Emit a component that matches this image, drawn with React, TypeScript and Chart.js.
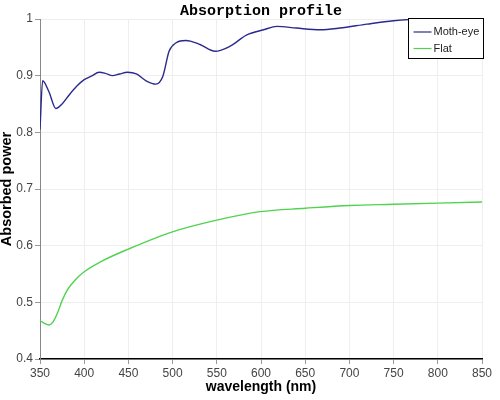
import React, { useEffect, useRef } from "react";
import { Chart, registerables } from "chart.js";

Chart.register(...registerables);

const mothEyeWavelengths = [350, 353, 360, 368, 375, 383, 392, 400, 408, 417, 424, 432, 440, 449, 459, 470, 481, 489, 496, 504, 515, 520, 531, 548, 565, 584, 603, 618, 640, 667, 689, 720, 750, 767, 800, 850];
const mothEyeValues = [0.805, 0.891, 0.872, 0.842, 0.850, 0.866, 0.882, 0.893, 0.899, 0.906, 0.904, 0.900, 0.903, 0.906, 0.903, 0.891, 0.885, 0.899, 0.943, 0.958, 0.962, 0.961, 0.955, 0.943, 0.952, 0.972, 0.981, 0.987, 0.984, 0.981, 0.984, 0.991, 0.997, 0.999, 1.0, 0.999];

const flatWavelengths = [350, 355, 360, 365, 370, 375, 381, 390, 400, 419, 450, 499, 550, 599, 650, 700, 750, 800, 850];
const flatValues = [0.468, 0.463, 0.460, 0.466, 0.482, 0.503, 0.522, 0.540, 0.554, 0.572, 0.594, 0.624, 0.645, 0.660, 0.666, 0.671, 0.673, 0.675, 0.677];

const seriesNames = ["Moth-eye", "Flat"];
const seriesColors = ["#2a2a8e", "#4fd34f"];

const chartTitle = "Absorption profile";
const xAxisTitle = "wavelength (nm)";
const yAxisTitle = "Absorbed power";

const toPoints = (xs: number[], ys: number[]) => xs.map((x, i) => ({ x, y: ys[i] }));

const boxLegend = {
  id: "boxLegend",
  afterDraw(chart: any) {
    const { ctx, chartArea } = chart;
    const w = 75;
    const h = 40;
    const left = chartArea.right + 1.5 - w;
    const top = chartArea.top - 0.5;
    ctx.save();
    ctx.fillStyle = "#ffffff";
    ctx.fillRect(left, top, w, h);
    ctx.strokeStyle = "#000000";
    ctx.lineWidth = 1;
    ctx.strokeRect(left, top, w, h);
    ctx.font = '11px "Liberation Sans", sans-serif';
    ctx.textBaseline = "middle";
    chart.data.datasets.forEach((ds: any, i: number) => {
      const y = top + 13.5 + i * 16.5;
      ctx.strokeStyle = ds.borderColor;
      ctx.lineWidth = 1.2;
      ctx.beginPath();
      ctx.moveTo(left + 5, y);
      ctx.lineTo(left + 23, y);
      ctx.stroke();
      ctx.fillStyle = "#222222";
      ctx.fillText(ds.label, left + 25, y);
    });
    ctx.restore();
  },
};

export default function App() {
  const canvasRef = useRef<HTMLCanvasElement | null>(null);

  useEffect(() => {
    if (!canvasRef.current) return;
    const chart = new Chart(canvasRef.current, {
      type: "line",
      data: {
        datasets: [
          {
            label: seriesNames[0],
            data: toPoints(mothEyeWavelengths, mothEyeValues),
            borderColor: seriesColors[0],
            borderWidth: 1.4,
            pointRadius: 0,
            cubicInterpolationMode: "monotone",
            fill: false,
          },
          {
            label: seriesNames[1],
            data: toPoints(flatWavelengths, flatValues),
            borderColor: seriesColors[1],
            borderWidth: 1.4,
            pointRadius: 0,
            cubicInterpolationMode: "monotone",
            fill: false,
          },
        ],
      },
      options: {
        animation: false,
        responsive: false,
        maintainAspectRatio: false,
        layout: { padding: { left: 0, right: 18, top: 0, bottom: 0 } },
        plugins: {
          legend: { display: false },
          tooltip: { enabled: false },
          title: {
            display: true,
            fullSize: false,
            text: chartTitle,
            color: "#000000",
            font: { family: '"Liberation Mono", monospace', size: 15, weight: "bold", lineHeight: 1 },
            padding: { top: 4, bottom: 0 },
          },
        },
        scales: {
          x: {
            type: "linear",
            min: 350,
            max: 850,
            afterFit: (scale: any) => {
              scale.height = 41;
            },
            ticks: {
              stepSize: 50,
              color: "#444444",
              padding: 2,
              maxRotation: 0,
              font: { family: '"Liberation Sans", sans-serif', size: 12 },
            },
            grid: {
              color: "#eeeeee",
              tickColor: "#999999",
              tickLength: 5,
            },
            border: { color: "#000000", width: 1.5 },
            title: {
              display: true,
              text: xAxisTitle,
              color: "#000000",
              font: { family: '"Liberation Sans", sans-serif', size: 14, weight: "bold" },
              padding: { top: 0, bottom: 4 },
            },
          },
          y: {
            type: "linear",
            min: 0.4,
            max: 1,
            afterFit: (scale: any) => {
              scale.width = 40;
            },
            ticks: {
              stepSize: 0.1,
              color: "#444444",
              padding: 2,
              font: { family: '"Liberation Sans", sans-serif', size: 12 },
              callback: (v: any) => String(Number(Number(v).toFixed(2))),
            },
            grid: {
              color: "#eeeeee",
              tickColor: "#999999",
              tickLength: 5,
            },
            border: { color: "#888888", width: 1 },
            title: {
              display: true,
              text: yAxisTitle,
              color: "#000000",
              font: { family: '"Liberation Sans", sans-serif', size: 14.5, weight: "bold", lineHeight: 1 },
              padding: { top: 0, bottom: 0 },
            },
          },
        },
      },
      plugins: [boxLegend],
    });
    return () => chart.destroy();
  }, []);

  return (
    <div style={{ position: "absolute", left: 0, top: 0, width: 500, height: 400, background: "#ffffff" }}>
      <canvas ref={canvasRef} width={500} height={400} style={{ display: "block" }} />
    </div>
  );
}
